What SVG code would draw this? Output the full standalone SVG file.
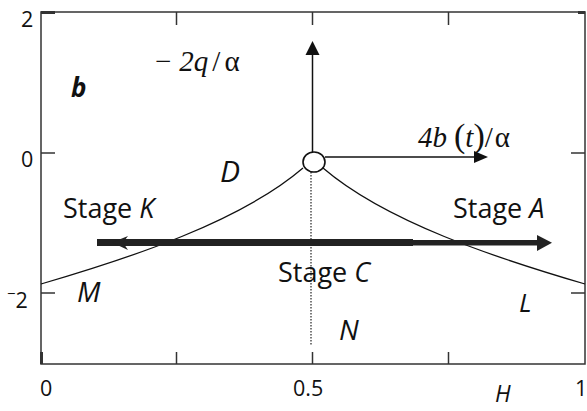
<svg xmlns="http://www.w3.org/2000/svg" width="587" height="411" viewBox="0 0 587 411">
<style>
.ax{fill:none;stroke:#333;stroke-width:1.5}
.tk{stroke:#333;stroke-width:1.5}
.num{font-family:"Open Sans","Noto Sans",sans-serif;font-size:21.5px;fill:#111}
.lbl{font-family:"Open Sans","Noto Sans",sans-serif;font-size:27px;fill:#111}
.it{font-style:italic}
.ser{font-family:"Liberation Serif","Times New Roman",serif;font-size:29px;fill:#111}
.ln{stroke:#111;stroke-width:1.5;fill:none}
.crv{stroke:#111;stroke-width:1.3;fill:none}
.ah{fill:#111}
</style>
<g id="axes">
<rect class="ax" x="41" y="12" width="544" height="352"/>
<line class="tk" x1="176.5" y1="12" x2="176.5" y2="25"/>
<line class="tk" x1="312.5" y1="12" x2="312.5" y2="25"/>
<line class="tk" x1="448.5" y1="12" x2="448.5" y2="25"/>
<line class="tk" x1="176.5" y1="352" x2="176.5" y2="364"/>
<line class="tk" x1="312.5" y1="352" x2="312.5" y2="364"/>
<line class="tk" x1="448.5" y1="352" x2="448.5" y2="364"/>
<line class="tk" x1="41" y1="153" x2="55" y2="153"/>
<line class="tk" x1="41" y1="293" x2="55" y2="293"/>
<line class="tk" x1="571" y1="153" x2="585" y2="153"/>
<line class="tk" x1="571" y1="293" x2="585" y2="293"/>
<line stroke="#333" stroke-width="3" x1="41" y1="12.5" x2="55" y2="12.5"/>
<line stroke="#333" stroke-width="3" x1="578" y1="12.5" x2="585" y2="12.5"/>
<line stroke="#333" stroke-width="3" x1="41.5" y1="352" x2="41.5" y2="364"/>
<text class="num" x="21" y="27">2</text>
<text class="num" x="21" y="167">0</text>
<text class="num" x="7" y="308"><tspan style="font-size:15px" dy="-9">−</tspan><tspan dy="9">2</tspan></text>
<text class="num" x="40" y="396">0</text>
<text class="num" x="293" y="396">0.5</text>
<text class="num" x="575" y="396">1</text>
<text class="lbl it" x="495" y="402" style="font-size:23px">H</text>
</g>
<g id="curve">
<path class="crv" d="M41,284 C130,258 240,222 303,168"/>
<path class="crv" d="M323,168 C386,222 496,258 585,284"/>
<line x1="311" y1="172" x2="311" y2="345" stroke="#222" stroke-width="1.2" stroke-dasharray="1.5 1.5"/>
</g>
<g id="origin">
<ellipse cx="314" cy="162" rx="11" ry="10" fill="#fff" stroke="#111" stroke-width="1.6"/>
</g>
<g id="connectors">
<line class="ln" x1="312.5" y1="152" x2="312.5" y2="54"/>
<polygon class="ah" points="312.5,41 305.5,55 319.5,55"/>
<line class="ln" x1="325" y1="157" x2="475" y2="157"/>
<polygon class="ah" points="488,157 474,151 474,163"/>
<rect x="97" y="239" width="316" height="7" fill="#222"/>
<rect x="412" y="240" width="126" height="5.5" fill="#222"/>
<polygon fill="#222" points="552,242.8 537,235 537,251"/>
<polygon fill="#222" points="112,242.5 128,236 123,242.5 128,250"/>
</g>
<g id="labels">
<text class="lbl" style="font-weight:bold;font-style:italic;font-size:26px" x="71" y="97">b</text>
<text class="ser" x="155" y="71">−<tspan dx="8" font-style="italic">2q</tspan><tspan dx="4">/</tspan><tspan dx="4">α</tspan></text>
<text class="ser" x="418" y="147"><tspan font-style="italic">4b</tspan><tspan dx="7" style="font-size:34px">(</tspan><tspan font-style="italic">t</tspan><tspan style="font-size:34px">)</tspan><tspan>/</tspan><tspan dx="2">α</tspan></text>
<text class="lbl it" x="220" y="182" style="font-size:30px">D</text>
<text class="lbl" x="63" y="218">Stage <tspan font-style="italic">K</tspan></text>
<text class="lbl" x="453" y="218">Stage <tspan font-style="italic">A</tspan></text>
<text class="lbl" x="278" y="282">Stage <tspan font-style="italic">C</tspan></text>
<text class="lbl it" x="77" y="302" style="font-size:28px">M</text>
<text class="lbl it" x="519" y="312" style="font-size:26px">L</text>
<text class="lbl it" x="339" y="340" style="font-size:28px">N</text>
</g>
</svg>
